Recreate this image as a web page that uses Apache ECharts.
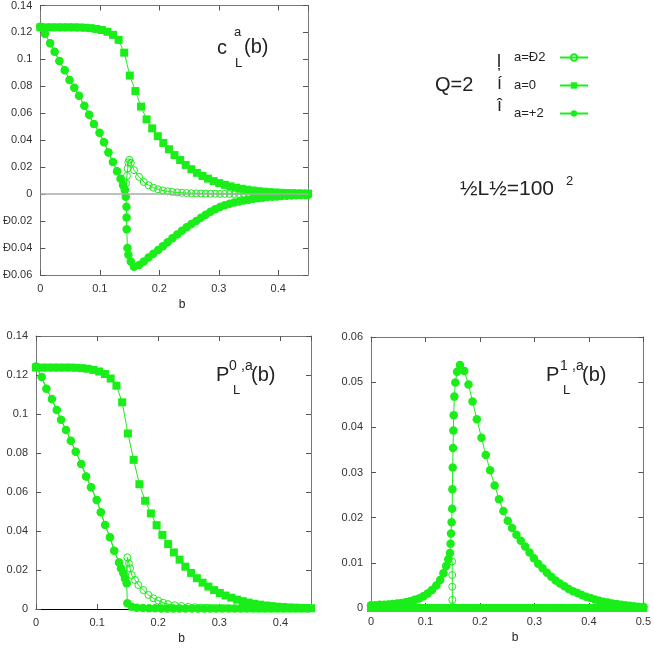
<!DOCTYPE html>
<html><head><meta charset="utf-8">
<script src="https://cdn.jsdelivr.net/npm/echarts/dist/echarts.min.js"></script>
<style>html,body{margin:0;padding:0;background:#fff}#c{width:654px;height:650px}</style>
</head><body><div id="c"></div>
<script>
const seriesNames = ['a=Ð2', 'a=0', 'a=+2'];

// panel 1: c_L^a(b)
const cAm2 = [[0,0.1243],[0.0077,0.119],[0.0165,0.112],[0.024,0.1057],[0.032,0.0988],[0.041,0.092],[0.049,0.0848],[0.057,0.079],[0.065,0.073],[0.074,0.0656],[0.082,0.059],[0.09,0.052],[0.0995,0.0455],[0.107,0.0385],[0.1145,0.031],[0.122,0.0238],[0.129,0.017],[0.135,0.0115],[0.139,0.0067],[0.142,0.003],[0.1442,0.008],[0.1455,0.0135],[0.1468,0.019],[0.148,0.0235],[0.1495,0.0255],[0.152,0.0232],[0.1575,0.0178],[0.166,0.0128],[0.174,0.009],[0.182,0.0066],[0.19,0.0048],[0.198,0.0036],[0.206,0.0027],[0.214,0.0021],[0.222,0.0016],[0.23,0.0013],[0.238,0.001],[0.246,0.0008],[0.254,0.0007],[0.262,0.0006],[0.27,0.0005],[0.278,0.0004],[0.286,0.0003],[0.294,0.0003],[0.302,0.0002],[0.31,0.0002],[0.318,0.0002],[0.326,0.0001],[0.334,0.0001],[0.342,0.0001],[0.35,0.0001],[0.358,0.0001],[0.366,0.0001],[0.374,0],[0.382,0],[0.39,0],[0.398,0],[0.406,0],[0.414,0],[0.422,0],[0.43,0],[0.438,0],[0.446,0]];
const cA0 = [[0,0.1238],[0.0094,0.1238],[0.0188,0.1238],[0.0282,0.1238],[0.0376,0.1238],[0.047,0.1238],[0.0564,0.1238],[0.0658,0.1237],[0.0752,0.1235],[0.0846,0.1232],[0.094,0.1226],[0.1034,0.1218],[0.1128,0.1205],[0.1222,0.1182],[0.1316,0.1145],[0.141,0.105],[0.1504,0.088],[0.1598,0.0765],[0.1692,0.065],[0.1786,0.0555],[0.188,0.0488],[0.1974,0.043],[0.2068,0.038],[0.2162,0.0333],[0.2256,0.029],[0.235,0.0253],[0.2444,0.0217],[0.2538,0.0185],[0.2632,0.0158],[0.2726,0.0135],[0.282,0.0115],[0.2914,0.0097],[0.3008,0.0082],[0.3102,0.0069],[0.3196,0.0058],[0.329,0.0048],[0.3384,0.004],[0.3478,0.0033],[0.3572,0.0027],[0.3666,0.0022],[0.376,0.0018],[0.3854,0.0015],[0.3948,0.0012],[0.4042,0.001],[0.4136,0.0008],[0.423,0.0007],[0.4324,0.0006],[0.4418,0.0005],[0.45,0.0004]];
const cAp2 = [[0,0.1243],[0.0077,0.119],[0.0165,0.112],[0.024,0.1057],[0.032,0.0988],[0.041,0.092],[0.049,0.0848],[0.057,0.079],[0.065,0.073],[0.074,0.0656],[0.082,0.059],[0.09,0.052],[0.0995,0.0455],[0.107,0.0385],[0.1145,0.031],[0.122,0.0238],[0.129,0.017],[0.135,0.0115],[0.139,0.0067],[0.142,0.003],[0.1436,-0.002],[0.1448,-0.0094],[0.145,-0.0173],[0.1452,-0.026],[0.1465,-0.04],[0.148,-0.045],[0.152,-0.05],[0.1575,-0.0538],[0.166,-0.0526],[0.174,-0.05],[0.182,-0.047],[0.19,-0.0443],[0.198,-0.0415],[0.206,-0.0386],[0.214,-0.0357],[0.222,-0.0328],[0.23,-0.03],[0.238,-0.0272],[0.246,-0.0246],[0.254,-0.0222],[0.262,-0.0199],[0.27,-0.0175],[0.278,-0.0152],[0.286,-0.013],[0.294,-0.0112],[0.302,-0.0096],[0.31,-0.0083],[0.318,-0.0072],[0.326,-0.0062],[0.334,-0.0054],[0.342,-0.0047],[0.35,-0.0041],[0.358,-0.0035],[0.366,-0.003],[0.374,-0.0026],[0.382,-0.0022],[0.39,-0.0019],[0.398,-0.0017],[0.406,-0.0014],[0.414,-0.0012],[0.422,-0.001],[0.43,-0.0009],[0.438,-0.0007],[0.446,-0.0006],[0.45,-0.0006]];

// panel 2: P_L^{0,a}(b)
const p0Am2 = [[0,0.1243],[0.0093,0.119],[0.017,0.113],[0.026,0.1077],[0.034,0.102],[0.041,0.097],[0.049,0.0918],[0.057,0.0863],[0.065,0.0807],[0.074,0.0744],[0.082,0.068],[0.09,0.0625],[0.0993,0.0559],[0.106,0.0496],[0.113,0.0431],[0.121,0.0368],[0.128,0.0299],[0.1358,0.0239],[0.139,0.0209],[0.143,0.0183],[0.1457,0.0157],[0.1484,0.0132],[0.1495,0.0265],[0.152,0.0234],[0.154,0.0209],[0.1566,0.0174],[0.162,0.0149],[0.1675,0.0123],[0.1757,0.0097],[0.184,0.0072],[0.192,0.0055],[0.2,0.0043],[0.208,0.0032],[0.216,0.0025],[0.227,0.0019],[0.238,0.0015],[0.249,0.0011],[0.26,0.0009],[0.27,0.0007],[0.28,0.0006],[0.29,0.0005],[0.3,0.0004],[0.31,0.0004],[0.32,0.0003],[0.33,0.0003],[0.34,0.0003],[0.35,0.0003],[0.36,0.0002],[0.37,0.0002],[0.38,0.0002],[0.39,0.0002],[0.4,0.0002],[0.41,0.0002],[0.42,0.0002],[0.43,0.0002],[0.44,0.0002]];
const p0A0 = [[0,0.1238],[0.0094,0.1238],[0.0188,0.1238],[0.0282,0.1238],[0.0376,0.1238],[0.047,0.1238],[0.0564,0.1238],[0.0658,0.1237],[0.0752,0.1235],[0.0846,0.1232],[0.094,0.1226],[0.1034,0.1218],[0.1128,0.1205],[0.1222,0.1182],[0.1316,0.1145],[0.141,0.106],[0.1504,0.09],[0.1598,0.0765],[0.1692,0.064],[0.1786,0.0555],[0.188,0.049],[0.1974,0.043],[0.2068,0.038],[0.2162,0.0333],[0.2256,0.029],[0.235,0.0253],[0.2444,0.0217],[0.2538,0.0185],[0.2632,0.0158],[0.2726,0.0135],[0.282,0.0115],[0.2914,0.0097],[0.3008,0.0082],[0.3102,0.0069],[0.3196,0.0058],[0.329,0.0048],[0.3384,0.004],[0.3478,0.0033],[0.3572,0.0027],[0.3666,0.0022],[0.376,0.0018],[0.3854,0.0015],[0.3948,0.0012],[0.4042,0.001],[0.4136,0.0008],[0.423,0.0007],[0.4324,0.0006],[0.4418,0.0005],[0.45,0.0004]];
const p0Ap2 = [[0,0.1243],[0.0093,0.119],[0.017,0.113],[0.026,0.1077],[0.034,0.102],[0.041,0.097],[0.049,0.0918],[0.057,0.0863],[0.065,0.0807],[0.074,0.0744],[0.082,0.068],[0.09,0.0625],[0.0993,0.0559],[0.106,0.0496],[0.113,0.0431],[0.121,0.0368],[0.128,0.0299],[0.1358,0.0239],[0.139,0.0209],[0.143,0.0183],[0.1457,0.0157],[0.1484,0.0132],[0.1495,0.0029],[0.1566,0.0012],[0.165,0.0007],[0.175,0.0005],[0.185,0.0004],[0.195,0.0004],[0.205,0.0003],[0.215,0.0003],[0.225,0.0003],[0.235,0.0003],[0.245,0.0003],[0.255,0.0003],[0.265,0.0003],[0.275,0.0003],[0.285,0.0003],[0.295,0.0003],[0.305,0.0003],[0.315,0.0003],[0.325,0.0003],[0.335,0.0003],[0.345,0.0003],[0.355,0.0003],[0.365,0.0002],[0.375,0.0002],[0.385,0.0002],[0.395,0.0002],[0.405,0.0002],[0.415,0.0002],[0.425,0.0002],[0.435,0.0002],[0.445,0.0002]];

// panel 3: P_L^{1,a}(b)
const p1Am2 = [[0,0.0006],[0.008,0.0006],[0.016,0.0007],[0.024,0.0007],[0.032,0.0008],[0.04,0.0009],[0.048,0.001],[0.056,0.0011],[0.064,0.0013],[0.072,0.0015],[0.08,0.0018],[0.088,0.0021],[0.096,0.0026],[0.104,0.0032],[0.112,0.004],[0.12,0.005],[0.127,0.0062],[0.133,0.0077],[0.138,0.0093],[0.142,0.0108],[0.149,0.0103],[0.1491,0.0073],[0.1492,0.0047],[0.1493,0.0018],[0.1495,0.0002],[0.157,0],[0.165,0],[0.173,0],[0.181,0],[0.189,0],[0.197,0],[0.205,0],[0.213,0],[0.221,0],[0.229,0],[0.237,0],[0.245,0],[0.253,0],[0.261,0],[0.269,0],[0.277,0],[0.285,0],[0.293,0],[0.301,0],[0.309,0],[0.317,0],[0.325,0],[0.333,0],[0.341,0],[0.349,0],[0.357,0],[0.365,0],[0.373,0],[0.381,0],[0.389,0],[0.397,0],[0.405,0],[0.413,0],[0.421,0],[0.429,0],[0.437,0],[0.445,0],[0.453,0],[0.461,0],[0.469,0],[0.477,0],[0.485,0],[0.493,0],[0.5,0]];
const p1A0 = [[0,0],[0.01,0],[0.02,0],[0.03,0],[0.04,0],[0.05,0],[0.06,0],[0.07,0],[0.08,0],[0.09,0],[0.1,0],[0.11,0],[0.12,0],[0.13,0],[0.14,0],[0.15,0],[0.16,0],[0.17,0],[0.18,0],[0.19,0],[0.2,0],[0.21,0],[0.22,0],[0.23,0],[0.24,0],[0.25,0],[0.26,0],[0.27,0],[0.28,0],[0.29,0],[0.3,0],[0.31,0],[0.32,0],[0.33,0],[0.34,0],[0.35,0],[0.36,0],[0.37,0],[0.38,0],[0.39,0],[0.4,0],[0.41,0],[0.42,0],[0.43,0],[0.44,0],[0.45,0],[0.46,0],[0.47,0],[0.48,0],[0.49,0],[0.5,0]];
const p1Ap2 = [[0,0.0006],[0.008,0.0006],[0.016,0.0007],[0.024,0.0007],[0.032,0.0008],[0.04,0.0009],[0.048,0.001],[0.056,0.0011],[0.064,0.0013],[0.072,0.0015],[0.08,0.0018],[0.088,0.0021],[0.096,0.0026],[0.104,0.0032],[0.112,0.004],[0.12,0.005],[0.127,0.0062],[0.133,0.0077],[0.138,0.0093],[0.142,0.0108],[0.145,0.0122],[0.146,0.0142],[0.147,0.0165],[0.148,0.019],[0.149,0.022],[0.1494,0.0263],[0.15,0.0311],[0.1506,0.0354],[0.1512,0.0393],[0.1518,0.0427],[0.153,0.0468],[0.1548,0.0499],[0.158,0.0523],[0.1633,0.0538],[0.1712,0.0525],[0.179,0.0495],[0.1864,0.0457],[0.1943,0.0418],[0.2028,0.0377],[0.2107,0.0339],[0.2186,0.0305],[0.227,0.0271],[0.235,0.0241],[0.243,0.0215],[0.251,0.0193],[0.259,0.0177],[0.267,0.0162],[0.275,0.0149],[0.283,0.0136],[0.291,0.0123],[0.299,0.011],[0.307,0.0098],[0.315,0.0088],[0.323,0.0078],[0.331,0.0069],[0.339,0.0061],[0.347,0.0054],[0.355,0.0048],[0.363,0.0042],[0.371,0.0037],[0.379,0.0033],[0.387,0.0029],[0.395,0.0025],[0.403,0.0022],[0.411,0.0019],[0.419,0.0016],[0.427,0.0014],[0.435,0.0012],[0.443,0.001],[0.451,0.0009],[0.459,0.0007],[0.467,0.0006],[0.475,0.0005],[0.483,0.0004],[0.491,0.0003],[0.5,0.0003]];

const G = '#19ee19';
const FONT = 'Liberation Sans';
const fmt = v => String(+(+v).toFixed(3)).replace('-', 'Ð');

function xAxes(g, max, bottomColor) {
  return [
    {type:'value', gridIndex:g, min:0, max:max, interval:0.1, position:'bottom',
     name:'b', nameLocation:'middle', nameGap:24,
     nameTextStyle:{color:'#222', fontSize:12, fontFamily:FONT, padding:[0,0,0,16]},
     axisLine:{show:true, onZero:false, lineStyle:{color:bottomColor, width:1}},
     axisTick:{show:true, inside:true, length:5, lineStyle:{color:'#555'}},
     axisLabel:{color:'#333', fontSize:11, fontFamily:FONT, margin:8, showMaxLabel: max === 0.5, formatter: fmt},
     splitLine:{show:false}},
    {type:'value', gridIndex:g, min:0, max:max, interval:0.1, position:'top',
     axisLine:{show:true, onZero:false, lineStyle:{color:'#777', width:1}},
     axisTick:{show:true, inside:true, length:5, lineStyle:{color:'#555'}},
     axisLabel:{show:false}, splitLine:{show:false}}
  ];
}
function yAxes(g, min, max, step) {
  return [
    {type:'value', gridIndex:g, min:min, max:max, interval:step, position:'left',
     axisLine:{show:true, onZero:false, lineStyle:{color:'#777', width:1}},
     axisTick:{show:true, inside:true, length:5, lineStyle:{color:'#555'}},
     axisLabel:{color:'#333', fontSize:11, fontFamily:FONT, margin:8, formatter: fmt},
     splitLine:{show:false}},
    {type:'value', gridIndex:g, min:min, max:max, interval:step, position:'right',
     axisLine:{show:true, onZero:false, lineStyle:{color:'#777', width:1}},
     axisTick:{show:true, inside:true, length:5, lineStyle:{color:'#555'}},
     axisLabel:{show:false}, splitLine:{show:false}}
  ];
}

const styles = {
  'a=Ð2': {symbol:'circle', symbolSize:7, itemStyle:{color:'rgba(255,255,255,0)', borderColor:G, borderWidth:1}},
  'a=0': {symbol:'rect', symbolSize:8, itemStyle:{color:G}},
  'a=+2': {symbol:'circle', symbolSize:8.5, itemStyle:{color:G}}
};
function mk(name, data, g, z, extra) {
  return Object.assign({
    name:name, type:'line', data:data, xAxisIndex:g*2, yAxisIndex:g*2,
    showAllSymbol:true, lineStyle:{color:G, width:1}, z:z, clip:false,
    emphasis:{disabled:true}, animation:false
  }, styles[name], extra || {});
}

const zeroLine = {markLine:{silent:true, symbol:'none', label:{show:false},
  lineStyle:{color:'#aaa', width:1.5, type:'solid'}, data:[{yAxis:0}]}};

const series = [
  mk(seriesNames[0], cAm2, 0, 2, zeroLine), mk(seriesNames[1], cA0, 0, 3), mk(seriesNames[2], cAp2, 0, 4),
  mk(seriesNames[0], p0Am2, 1, 2), mk(seriesNames[1], p0A0, 1, 3), mk(seriesNames[2], p0Ap2, 1, 4),
  mk(seriesNames[0], p1Am2, 2, 2), mk(seriesNames[1], p1A0, 2, 3), mk(seriesNames[2], p1Ap2, 2, 4)
];

function txt(t, x, y, size) {
  return {type:'text', x:x, y:y, silent:true,
    style:{text:t, fontSize:size, fontFamily:FONT, fill:'#222', textAlign:'left', textVerticalAlign:'middle', align:'left', verticalAlign:'middle'}};
}

const option = {
  backgroundColor:'#fff',
  animation:false,
  grid:[
    {left:36, top:5, width:272, height:270},
    {left:36, top:336, width:275, height:273},
    {left:371, top:337, width:275, height:271}
  ],
  xAxis:[].concat(xAxes(0, 0.45, '#777'), xAxes(1, 0.45, '#000'), xAxes(2, 0.5, '#000')),
  yAxis:[].concat(yAxes(0, -0.06, 0.14, 0.02), yAxes(1, 0, 0.14, 0.02), yAxes(2, 0, 0.06, 0.01)),
  legend:{data:seriesNames, orient:'vertical', left:514, top:50, padding:0, align:'right',
    itemWidth:28, itemHeight:8, itemGap:13, selectedMode:false,
    formatter: n => '{t|' + n + '}',
    textStyle:{fontSize:13, fontFamily:FONT, color:'#222', lineHeight:15,
      rich:{t:{width:41, align:'left', fontSize:13, fontFamily:FONT, color:'#222', lineHeight:15}}}},
  graphic:[
    txt('c', 217, 48, 20), txt('a', 234, 32, 13), txt('L', 235, 63, 13), txt('(b)', 244, 47, 20),
    txt('P', 216, 375, 20), txt('0', 229, 366, 14), txt(',a', 241, 366, 14), txt('L', 233, 390, 13), txt('(b)', 251, 375, 20),
    txt('P', 546, 375, 20), txt('1', 560, 366, 14), txt(',a', 572, 366, 14), txt('L', 563, 390, 13), txt('(b)', 582, 375, 20),
    txt('Q=2', 435, 85, 20),
    txt('ļ', 497, 62, 18), txt('í', 497, 84, 18), txt('î', 497, 106, 18),
    txt('½L½=100', 460, 189, 21), txt('2', 566, 181, 13)
  ],
  series:series
};
const chart = echarts.init(document.getElementById('c'));
chart.setOption(option);
</script></body></html>
